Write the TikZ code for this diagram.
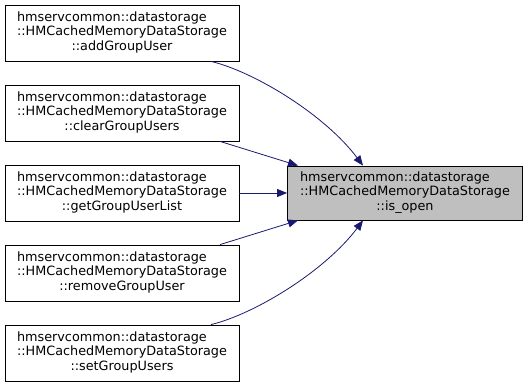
\documentclass[tikz,border=0pt]{standalone}
\usepackage{fontspec}
\setmainfont{DejaVu Sans}
\usetikzlibrary{arrows.meta}
\definecolor{edgeblue}{HTML}{191970}
\definecolor{focusgray}{HTML}{BFBFBF}
% three-line label: first two lines flush left, last line centred
\newcommand{\fnlabel}[3]{\begin{tabular}{@{}l@{}}#1\\#2\\\multicolumn{1}{@{}c@{}}{#3}\end{tabular}}
\tikzset{
  fn/.style={draw=black, line width=0.8pt, fill=white, minimum width=234pt, minimum height=56pt,
    inner sep=0pt, font=\fontsize{12.8pt}{14.5pt}\selectfont},
  focus/.style={fn, fill=focusgray, minimum width=235pt, minimum height=54pt},
  call/.style={draw=edgeblue, line width=0.8pt, -{Triangle[length=10pt,width=8pt]}}
}
\begin{document}
\begin{tikzpicture}[x=1pt,y=-1pt]
\useasboundingbox (0,0) rectangle (528,387);
\node[fn] (add) at (122,33) {\fnlabel{hmservcommon::datastorage}{::HMCachedMemoryDataStorage}{::addGroupUser}};
\node[fn] (clear) at (122,113) {\fnlabel{hmservcommon::datastorage}{::HMCachedMemoryDataStorage}{::clearGroupUsers}};
\node[fn] (list) at (122,193) {\fnlabel{hmservcommon::datastorage}{::HMCachedMemoryDataStorage}{::getGroupUserList}};
\node[fn] (remove) at (122,273) {\fnlabel{hmservcommon::datastorage}{::HMCachedMemoryDataStorage}{::removeGroupUser}};
\node[fn] (set) at (122,353) {\fnlabel{hmservcommon::datastorage}{::HMCachedMemoryDataStorage}{::setGroupUsers}};
\node[focus] (open) at (405,193) {\fnlabel{hmservcommon::datastorage}{::HMCachedMemoryDataStorage}{::is\_open}};

\draw[call] ([xshift=89pt]add.south) .. controls (255,72) and (325,115) .. ([xshift=-42pt]open.north);
\draw[call] ([xshift=98pt]clear.south) -- ([xshift=-107pt]open.north);
\draw[call] (list.east) -- (open.west);
\draw[call] ([xshift=98pt]remove.north) -- ([xshift=-107pt]open.south);
\draw[call] ([xshift=89pt]set.north) .. controls (255,314) and (325,271) .. ([xshift=-42pt]open.south);
\end{tikzpicture}
\end{document}
